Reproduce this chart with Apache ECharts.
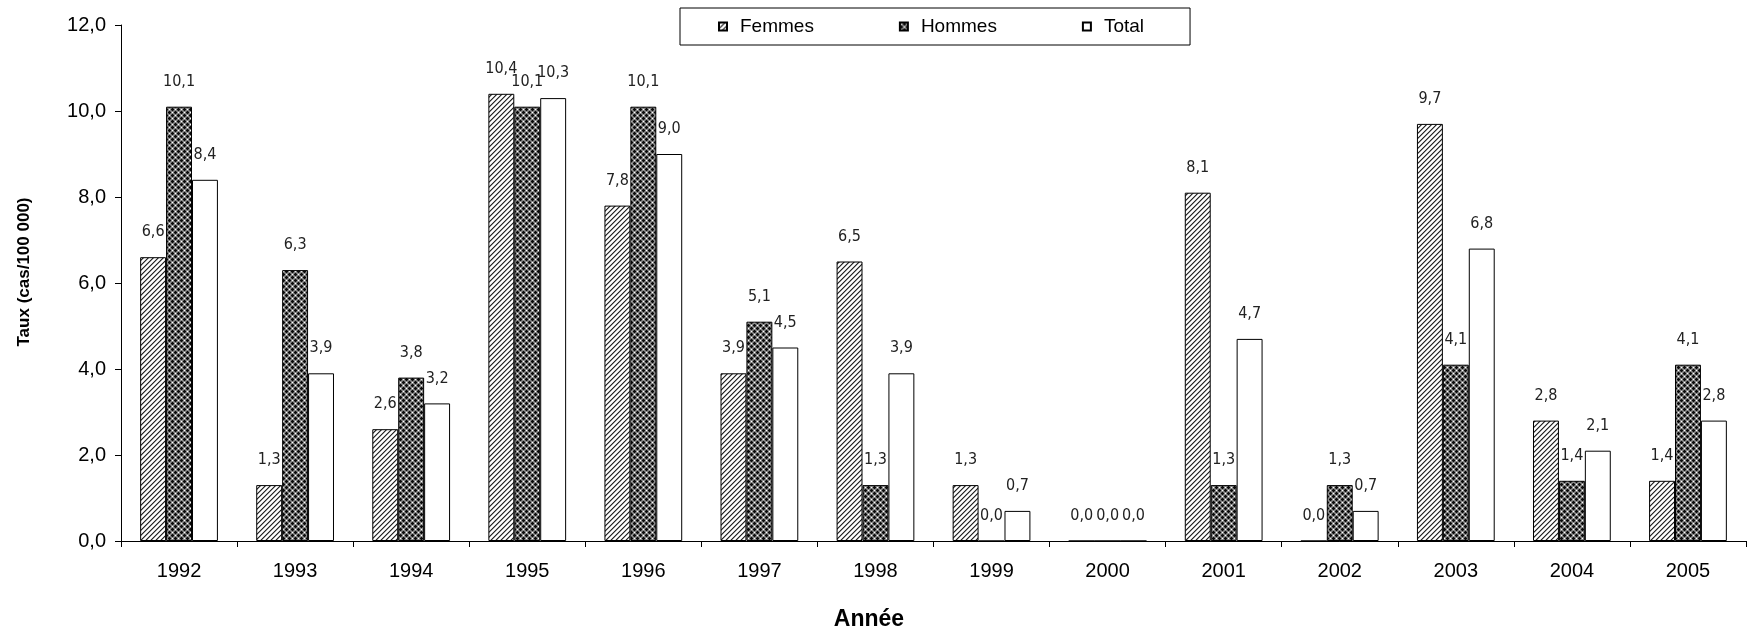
<!DOCTYPE html>
<html>
<head>
<meta charset="utf-8">
<script src="https://cdn.jsdelivr.net/npm/echarts@6/dist/echarts.min.js"></script>
<style>
html,body{margin:0;padding:0;background:#fff;}
#chart{width:1749px;height:632px;}
</style>
</head>
<body>
<div id="chart"></div>
<script>
const categories = ['1992','1993','1994','1995','1996','1997','1998','1999','2000','2001','2002','2003','2004','2005'];
const femmes = [6.6, 1.3, 2.6, 10.4, 7.8, 3.9, 6.5, 1.3, 0.0, 8.1, 0.0, 9.7, 2.8, 1.4];
const hommes = [10.1, 6.3, 3.8, 10.1, 10.1, 5.1, 1.3, 0.0, 0.0, 1.3, 1.3, 4.1, 1.4, 4.1];
const total  = [8.4, 3.9, 3.2, 10.3, 9.0, 4.5, 3.9, 0.7, 0.0, 4.7, 0.7, 6.8, 2.1, 2.8];
const seriesNames = ['Femmes', 'Hommes', 'Total'];
const yTicks = {min: 0, max: 12, interval: 2};

function hatchTile() {
  const c = document.createElement('canvas');
  c.width = 5; c.height = 5;
  const ctx = c.getContext('2d');
  const img = ctx.createImageData(5, 5);
  for (let y = 0; y < 5; y++) for (let x = 0; x < 5; x++) {
    const m = (x + y) % 5;
    let v = 255;
    if (m === 0) v = 40; else if (m === 1) v = 150; else if (m === 4) v = 215;
    const i = (y * 5 + x) * 4;
    img.data[i] = img.data[i+1] = img.data[i+2] = v; img.data[i+3] = 255;
  }
  ctx.putImageData(img, 0, 0);
  return c;
}
function crossTile() {
  const c = document.createElement('canvas');
  c.width = 6; c.height = 6;
  const ctx = c.getContext('2d');
  const img = ctx.createImageData(6, 6);
  for (let y = 0; y < 6; y++) for (let x = 0; x < 6; x++) {
    let v;
    const inA = x <= 2 && y <= 2;
    const inB = x >= 3 && y >= 3;
    if ((x === 1 && y === 1) || (x === 4 && y === 4)) v = 255;
    else if (inA || inB) v = 140;
    else {
      const lx = x % 3, ly = y % 3;
      v = (lx !== 1 && ly !== 1) ? 90 : 10;
    }
    const i = (y * 6 + x) * 4;
    img.data[i] = img.data[i+1] = img.data[i+2] = v; img.data[i+3] = 255;
  }
  ctx.putImageData(img, 0, 0);
  return c;
}

const fills = [
  {image: hatchTile(), repeat: 'repeat'},
  {image: crossTile(), repeat: 'repeat'},
  '#ffffff'
];
const fmt = v => Number(v).toFixed(1).replace('.', ',');
const labelFont = '"Liberation Sans Narrow", "DejaVu Sans Condensed", sans-serif';
const mainFont = '"Liberation Sans", Arial, sans-serif';

const chart = echarts.init(document.getElementById('chart'), null, {renderer: 'canvas'});
const dataSets = [femmes, hommes, total];
chart.setOption({
  animation: false,
  backgroundColor: '#ffffff',
  grid: {left: 121, right: 3, top: 25, bottom: 91, containLabel: false},
  legend: {
    data: seriesNames,
    left: 680, top: 8,
    padding: [9, 46, 9, 38],
    itemGap: 85,
    itemWidth: 8, itemHeight: 8,
    borderColor: '#000', borderWidth: 1,
    backgroundColor: '#fff',
    icon: 'rect',
    textStyle: {fontFamily: mainFont, fontSize: 19, color: '#000', padding: [0, 0, 0, 8]}
  },
  xAxis: {
    type: 'category',
    data: categories,
    axisLine: {lineStyle: {color: '#000', width: 1}},
    axisTick: {show: true, alignWithLabel: false, length: 6, lineStyle: {color: '#000'}},
    axisLabel: {fontFamily: mainFont, fontSize: 20, color: '#000', margin: 20},
    splitLine: {show: false}
  },
  yAxis: {
    type: 'value',
    min: yTicks.min, max: yTicks.max, interval: yTicks.interval,
    axisLine: {show: true, lineStyle: {color: '#000', width: 1}},
    axisTick: {show: true, length: 6, lineStyle: {color: '#000'}},
    axisLabel: {fontFamily: mainFont, fontSize: 20, color: '#000', margin: 15, formatter: fmt},
    splitLine: {show: false}
  },
  graphic: [
    {type: 'text', x: 24, y: 272, rotation: Math.PI / 2,
     style: {text: 'Taux (cas/100 000)', font: 'bold 17px "Liberation Sans", Arial, sans-serif', fill: '#000', textAlign: 'center', textVerticalAlign: 'middle'}},
    {type: 'text', x: 869, y: 620,
     style: {text: 'Année', font: 'bold 23px "Liberation Sans", Arial, sans-serif', fill: '#000', textAlign: 'center', textVerticalAlign: 'middle'}}
  ],
  series: seriesNames.map((name, k) => ({
    name: name,
    type: 'bar',
    data: dataSets[k],
    barGap: '0%',
    barCategoryGap: '33%',
    itemStyle: {color: fills[k], borderColor: '#000', borderWidth: 1},
    label: {
      show: true, position: 'top', distance: 17,
      formatter: p => fmt(p.value),
      fontFamily: labelFont, fontSize: 16, color: '#222'
    }
  }))
});
</script>
</body>
</html>
